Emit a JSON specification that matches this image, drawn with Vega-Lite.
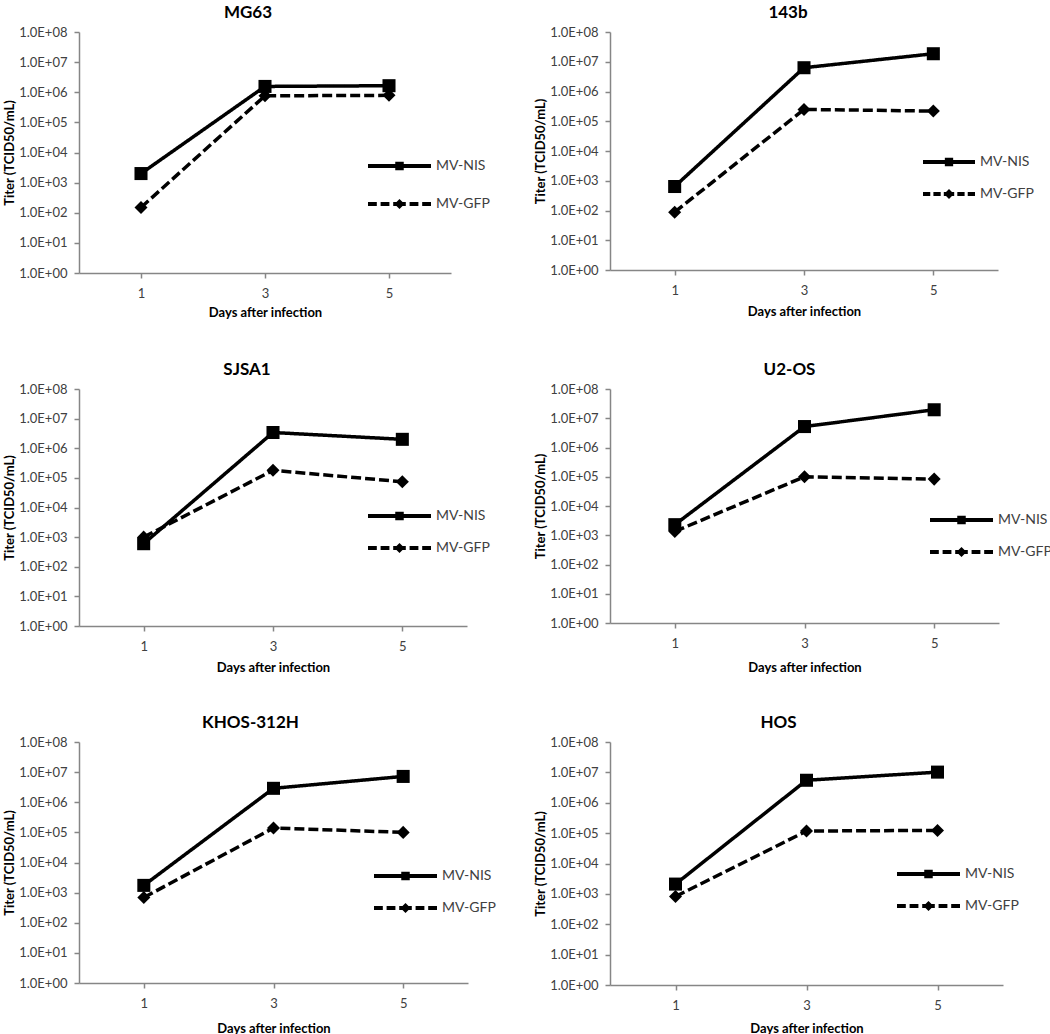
{
  "$schema": "https://vega.github.io/schema/vega-lite/v6.json",
  "padding": {"left": 3, "top": 4, "right": 0, "bottom": 0},
  "datasets": {
    "titers": [
      {"cell": "MG63", "virus": "MV-NIS", "day": 1, "titer": 2000},
      {"cell": "MG63", "virus": "MV-NIS", "day": 3, "titer": 1560000},
      {"cell": "MG63", "virus": "MV-NIS", "day": 5, "titer": 1650000},
      {"cell": "MG63", "virus": "MV-GFP", "day": 1, "titer": 150},
      {"cell": "MG63", "virus": "MV-GFP", "day": 3, "titer": 760000},
      {"cell": "MG63", "virus": "MV-GFP", "day": 5, "titer": 790000},
      {"cell": "143b", "virus": "MV-NIS", "day": 1, "titer": 640},
      {"cell": "143b", "virus": "MV-NIS", "day": 3, "titer": 6300000},
      {"cell": "143b", "virus": "MV-NIS", "day": 5, "titer": 18600000},
      {"cell": "143b", "virus": "MV-GFP", "day": 1, "titer": 88},
      {"cell": "143b", "virus": "MV-GFP", "day": 3, "titer": 250000},
      {"cell": "143b", "virus": "MV-GFP", "day": 5, "titer": 220000},
      {"cell": "SJSA1", "virus": "MV-NIS", "day": 1, "titer": 600},
      {"cell": "SJSA1", "virus": "MV-NIS", "day": 3, "titer": 3400000},
      {"cell": "SJSA1", "virus": "MV-NIS", "day": 5, "titer": 2000000},
      {"cell": "SJSA1", "virus": "MV-GFP", "day": 1, "titer": 1000},
      {"cell": "SJSA1", "virus": "MV-GFP", "day": 3, "titer": 180000},
      {"cell": "SJSA1", "virus": "MV-GFP", "day": 5, "titer": 74000},
      {"cell": "U2-OS", "virus": "MV-NIS", "day": 1, "titer": 2300},
      {"cell": "U2-OS", "virus": "MV-NIS", "day": 3, "titer": 5200000},
      {"cell": "U2-OS", "virus": "MV-NIS", "day": 5, "titer": 19500000},
      {"cell": "U2-OS", "virus": "MV-GFP", "day": 1, "titer": 1350},
      {"cell": "U2-OS", "virus": "MV-GFP", "day": 3, "titer": 100000},
      {"cell": "U2-OS", "virus": "MV-GFP", "day": 5, "titer": 83000},
      {"cell": "KHOS-312H", "virus": "MV-NIS", "day": 1, "titer": 1740},
      {"cell": "KHOS-312H", "virus": "MV-NIS", "day": 3, "titer": 2900000},
      {"cell": "KHOS-312H", "virus": "MV-NIS", "day": 5, "titer": 7200000},
      {"cell": "KHOS-312H", "virus": "MV-GFP", "day": 1, "titer": 690},
      {"cell": "KHOS-312H", "virus": "MV-GFP", "day": 3, "titer": 140000},
      {"cell": "KHOS-312H", "virus": "MV-GFP", "day": 5, "titer": 100000},
      {"cell": "HOS", "virus": "MV-NIS", "day": 1, "titer": 2100},
      {"cell": "HOS", "virus": "MV-NIS", "day": 3, "titer": 5500000},
      {"cell": "HOS", "virus": "MV-NIS", "day": 5, "titer": 10200000},
      {"cell": "HOS", "virus": "MV-GFP", "day": 1, "titer": 820},
      {"cell": "HOS", "virus": "MV-GFP", "day": 3, "titer": 117000},
      {"cell": "HOS", "virus": "MV-GFP", "day": 5, "titer": 123000}
    ]
  },
  "data": {"name": "titers"},
  "columns": 2,
  "bounds": "flush",
  "spacing": {"row": 116, "column": 142},
  "resolve": {"scale": {"strokeDash": "independent"}, "legend": {"strokeDash": "independent"}},
  "concat": [
    {
      "title": {"text": "MG63", "dx": -17},
      "width": 372, "height": 241,
      "transform": [{"filter": "datum.cell === 'MG63'"}],
      "encoding": {
        "x": {"field": "day", "type": "ordinal", "scale": {"type": "point", "padding": 0.5}, "axis": {"title": "Days after infection", "titlePadding": 6}},
        "y": {"field": "titer", "type": "quantitative", "scale": {"type": "log", "domain": [1, 100000000], "nice": false}, "axis": {"title": "Titer (TCID50/mL)", "values": [1, 10, 100, 1000, 10000, 100000, 1000000, 10000000, 100000000], "labelExpr": "'1.0E+0' + round(log(datum.value)/LN10)"}}
      },
      "layer": [
        {"mark": {"type": "line", "color": "black", "strokeWidth": 3.5}, "encoding": {"strokeDash": {"field": "virus", "type": "nominal", "scale": {"domain": ["MV-NIS", "MV-GFP"], "range": [[1, 0], [10, 4]]},
          "legend": {"title": null, "orient": "none", "legendX": 289, "legendY": 126, "rowPadding": 22, "symbolSize": 3969, "clipHeight": 16, "padding": 0, "labelOffset": 5, "symbolStrokeWidth": 0,
            "encoding": {"symbols": {"shape": {"value": {"expr": "datum.value === 'MV-NIS' ? 'M-1,-0.063H1V0.063H-1Z M-0.135,-0.135H0.135V0.135H-0.135Z' : 'M-1,-0.063H-0.72V0.063H-1Z M-0.6,-0.063H-0.32V0.063H-0.6Z M-0.2,-0.063H0.2V0.063H-0.2Z M0,-0.16L0.16,0L0,0.16L-0.16,0Z M0.32,-0.063H0.6V0.063H0.32Z M0.72,-0.063H1V0.063H0.72Z'"}}, "fill": {"value": "black"}, "stroke": {"value": "transparent"}, "opacity": {"value": 1}}}}}}},
        {"mark": {"type": "point", "filled": true, "color": "black", "opacity": 1, "size": 170}, "encoding": {"shape": {"condition": {"test": "datum.virus === 'MV-NIS'", "value": "square"}, "value": "diamond"}}}
      ]
    },
    {
      "title": {"text": "143b", "dx": -16},
      "width": 388, "height": 238,
      "transform": [{"filter": "datum.cell === '143b'"}],
      "encoding": {
        "x": {"field": "day", "type": "ordinal", "scale": {"type": "point", "padding": 0.5}, "axis": {"title": "Days after infection", "titlePadding": 8}},
        "y": {"field": "titer", "type": "quantitative", "scale": {"type": "log", "domain": [1, 100000000], "nice": false}, "axis": {"title": "Titer (TCID50/mL)", "values": [1, 10, 100, 1000, 10000, 100000, 1000000, 10000000, 100000000], "labelExpr": "'1.0E+0' + round(log(datum.value)/LN10)"}}
      },
      "layer": [
        {"mark": {"type": "line", "color": "black", "strokeWidth": 3.5}, "encoding": {"strokeDash": {"field": "virus", "type": "nominal", "scale": {"domain": ["MV-NIS", "MV-GFP"], "range": [[1, 0], [10, 4]]},
          "legend": {"title": null, "orient": "none", "legendX": 313, "legendY": 122, "rowPadding": 16, "symbolSize": 2704, "clipHeight": 16, "padding": 0, "labelOffset": 5, "symbolStrokeWidth": 0,
            "encoding": {"symbols": {"shape": {"value": {"expr": "datum.value === 'MV-NIS' ? 'M-1,-0.075H1V0.075H-1Z M-0.16,-0.16H0.16V0.16H-0.16Z' : 'M-1,-0.075H-0.72V0.075H-1Z M-0.6,-0.075H-0.32V0.075H-0.6Z M-0.2,-0.075H0.2V0.075H-0.2Z M0,-0.19L0.19,0L0,0.19L-0.19,0Z M0.32,-0.075H0.6V0.075H0.32Z M0.72,-0.075H1V0.075H0.72Z'"}}, "fill": {"value": "black"}, "stroke": {"value": "transparent"}, "opacity": {"value": 1}}}}}}},
        {"mark": {"type": "point", "filled": true, "color": "black", "opacity": 1, "size": 170}, "encoding": {"shape": {"condition": {"test": "datum.virus === 'MV-NIS'", "value": "square"}, "value": "diamond"}}}
      ]
    },
    {
      "title": {"text": "SJSA1", "dx": -26},
      "width": 388, "height": 237,
      "transform": [{"filter": "datum.cell === 'SJSA1'"}],
      "encoding": {
        "x": {"field": "day", "type": "ordinal", "scale": {"type": "point", "padding": 0.5}, "axis": {"title": "Days after infection", "titlePadding": 8}},
        "y": {"field": "titer", "type": "quantitative", "scale": {"type": "log", "domain": [1, 100000000], "nice": false}, "axis": {"title": "Titer (TCID50/mL)", "values": [1, 10, 100, 1000, 10000, 100000, 1000000, 10000000, 100000000], "labelExpr": "'1.0E+0' + round(log(datum.value)/LN10)"}}
      },
      "layer": [
        {"mark": {"type": "line", "color": "black", "strokeWidth": 3.5}, "encoding": {"strokeDash": {"field": "virus", "type": "nominal", "scale": {"domain": ["MV-NIS", "MV-GFP"], "range": [[1, 0], [10, 4]]},
          "legend": {"title": null, "orient": "none", "legendX": 289, "legendY": 119, "rowPadding": 16, "symbolSize": 3969, "clipHeight": 16, "padding": 0, "labelOffset": 5, "symbolStrokeWidth": 0,
            "encoding": {"symbols": {"shape": {"value": {"expr": "datum.value === 'MV-NIS' ? 'M-1,-0.063H1V0.063H-1Z M-0.135,-0.135H0.135V0.135H-0.135Z' : 'M-1,-0.063H-0.72V0.063H-1Z M-0.6,-0.063H-0.32V0.063H-0.6Z M-0.2,-0.063H0.2V0.063H-0.2Z M0,-0.16L0.16,0L0,0.16L-0.16,0Z M0.32,-0.063H0.6V0.063H0.32Z M0.72,-0.063H1V0.063H0.72Z'"}}, "fill": {"value": "black"}, "stroke": {"value": "transparent"}, "opacity": {"value": 1}}}}}}},
        {"mark": {"type": "point", "filled": true, "color": "black", "opacity": 1, "size": 170}, "encoding": {"shape": {"condition": {"test": "datum.virus === 'MV-NIS'", "value": "square"}, "value": "diamond"}}}
      ]
    },
    {
      "title": {"text": "U2-OS", "dx": -15},
      "width": 389, "height": 234,
      "transform": [{"filter": "datum.cell === 'U2-OS'"}],
      "encoding": {
        "x": {"field": "day", "type": "ordinal", "scale": {"type": "point", "padding": 0.5}, "axis": {"title": "Days after infection", "titlePadding": 11}},
        "y": {"field": "titer", "type": "quantitative", "scale": {"type": "log", "domain": [1, 100000000], "nice": false}, "axis": {"title": "Titer (TCID50/mL)", "values": [1, 10, 100, 1000, 10000, 100000, 1000000, 10000000, 100000000], "labelExpr": "'1.0E+0' + round(log(datum.value)/LN10)"}}
      },
      "layer": [
        {"mark": {"type": "line", "color": "black", "strokeWidth": 3.5}, "encoding": {"strokeDash": {"field": "virus", "type": "nominal", "scale": {"domain": ["MV-NIS", "MV-GFP"], "range": [[1, 0], [10, 4]]},
          "legend": {"title": null, "orient": "none", "legendX": 320, "legendY": 123, "rowPadding": 16, "symbolSize": 3969, "clipHeight": 16, "padding": 0, "labelOffset": 5, "symbolStrokeWidth": 0,
            "encoding": {"symbols": {"shape": {"value": {"expr": "datum.value === 'MV-NIS' ? 'M-1,-0.063H1V0.063H-1Z M-0.135,-0.135H0.135V0.135H-0.135Z' : 'M-1,-0.063H-0.72V0.063H-1Z M-0.6,-0.063H-0.32V0.063H-0.6Z M-0.2,-0.063H0.2V0.063H-0.2Z M0,-0.16L0.16,0L0,0.16L-0.16,0Z M0.32,-0.063H0.6V0.063H0.32Z M0.72,-0.063H1V0.063H0.72Z'"}}, "fill": {"value": "black"}, "stroke": {"value": "transparent"}, "opacity": {"value": 1}}}}}}},
        {"mark": {"type": "point", "filled": true, "color": "black", "opacity": 1, "size": 170}, "encoding": {"shape": {"condition": {"test": "datum.virus === 'MV-NIS'", "value": "square"}, "value": "diamond"}}}
      ]
    },
    {
      "title": {"text": "KHOS-312H", "dx": -23},
      "width": 389, "height": 241,
      "transform": [{"filter": "datum.cell === 'KHOS-312H'"}],
      "encoding": {
        "x": {"field": "day", "type": "ordinal", "scale": {"type": "point", "padding": 0.5}, "axis": {"title": "Days after infection", "titlePadding": 12}},
        "y": {"field": "titer", "type": "quantitative", "scale": {"type": "log", "domain": [1, 100000000], "nice": false}, "axis": {"title": "Titer (TCID50/mL)", "values": [1, 10, 100, 1000, 10000, 100000, 1000000, 10000000, 100000000], "labelExpr": "'1.0E+0' + round(log(datum.value)/LN10)"}}
      },
      "layer": [
        {"mark": {"type": "line", "color": "black", "strokeWidth": 3.5}, "encoding": {"strokeDash": {"field": "virus", "type": "nominal", "scale": {"domain": ["MV-NIS", "MV-GFP"], "range": [[1, 0], [10, 4]]},
          "legend": {"title": null, "orient": "none", "legendX": 295, "legendY": 126, "rowPadding": 16, "symbolSize": 3969, "clipHeight": 16, "padding": 0, "labelOffset": 5, "symbolStrokeWidth": 0,
            "encoding": {"symbols": {"shape": {"value": {"expr": "datum.value === 'MV-NIS' ? 'M-1,-0.063H1V0.063H-1Z M-0.135,-0.135H0.135V0.135H-0.135Z' : 'M-1,-0.063H-0.72V0.063H-1Z M-0.6,-0.063H-0.32V0.063H-0.6Z M-0.2,-0.063H0.2V0.063H-0.2Z M0,-0.16L0.16,0L0,0.16L-0.16,0Z M0.32,-0.063H0.6V0.063H0.32Z M0.72,-0.063H1V0.063H0.72Z'"}}, "fill": {"value": "black"}, "stroke": {"value": "transparent"}, "opacity": {"value": 1}}}}}}},
        {"mark": {"type": "point", "filled": true, "color": "black", "opacity": 1, "size": 170}, "encoding": {"shape": {"condition": {"test": "datum.virus === 'MV-NIS'", "value": "square"}, "value": "diamond"}}}
      ]
    },
    {
      "title": {"text": "HOS", "dx": -28},
      "width": 393, "height": 243,
      "transform": [{"filter": "datum.cell === 'HOS'"}],
      "encoding": {
        "x": {"field": "day", "type": "ordinal", "scale": {"type": "point", "padding": 0.5}, "axis": {"title": "Days after infection", "titlePadding": 10}},
        "y": {"field": "titer", "type": "quantitative", "scale": {"type": "log", "domain": [1, 100000000], "nice": false}, "axis": {"title": "Titer (TCID50/mL)", "values": [1, 10, 100, 1000, 10000, 100000, 1000000, 10000000, 100000000], "labelExpr": "'1.0E+0' + round(log(datum.value)/LN10)"}}
      },
      "layer": [
        {"mark": {"type": "line", "color": "black", "strokeWidth": 3.5}, "encoding": {"strokeDash": {"field": "virus", "type": "nominal", "scale": {"domain": ["MV-NIS", "MV-GFP"], "range": [[1, 0], [10, 4]]},
          "legend": {"title": null, "orient": "none", "legendX": 287, "legendY": 124, "rowPadding": 16, "symbolSize": 3969, "clipHeight": 16, "padding": 0, "labelOffset": 5, "symbolStrokeWidth": 0,
            "encoding": {"symbols": {"shape": {"value": {"expr": "datum.value === 'MV-NIS' ? 'M-1,-0.063H1V0.063H-1Z M-0.135,-0.135H0.135V0.135H-0.135Z' : 'M-1,-0.063H-0.72V0.063H-1Z M-0.6,-0.063H-0.32V0.063H-0.6Z M-0.2,-0.063H0.2V0.063H-0.2Z M0,-0.16L0.16,0L0,0.16L-0.16,0Z M0.32,-0.063H0.6V0.063H0.32Z M0.72,-0.063H1V0.063H0.72Z'"}}, "fill": {"value": "black"}, "stroke": {"value": "transparent"}, "opacity": {"value": 1}}}}}}},
        {"mark": {"type": "point", "filled": true, "color": "black", "opacity": 1, "size": 170}, "encoding": {"shape": {"condition": {"test": "datum.virus === 'MV-NIS'", "value": "square"}, "value": "diamond"}}}
      ]
    }
  ],
  "config": {
    "font": "Lato",
    "view": {"stroke": null},
    "axis": {"domainColor": "#868686", "domainWidth": 1.5, "tickColor": "#868686", "tickWidth": 1.5, "tickSize": 5, "labelColor": "#404040", "labelFont": "Lato", "labelFontSize": 13, "titleFont": "Lato", "titleFontSize": 13, "titleFontWeight": "bold", "titleColor": "black", "grid": false},
    "axisX": {"labelAngle": 0, "labelPadding": 9},
    "axisY": {"labelPadding": 7, "titlePadding": 2},
    "title": {"font": "Lato", "fontSize": 17, "fontWeight": "bold", "offset": 4, "color": "black"},
    "legend": {"labelFont": "Lato", "labelFontSize": 14, "labelColor": "#404040"}
  }
}
